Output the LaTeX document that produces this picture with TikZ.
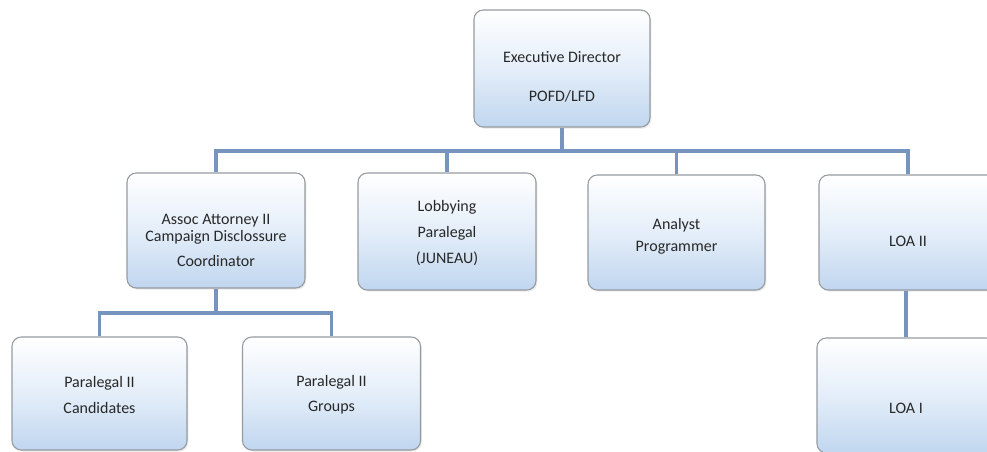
\documentclass[tikz,border=0pt]{standalone}
\usepackage{fontspec}
\setmainfont{Carlito}
\usetikzlibrary{shadows}
\definecolor{boxblue}{RGB}{192,214,239}
\definecolor{boxmid}{RGB}{228,238,249}
\definecolor{boxline}{RGB}{150,155,160}
\definecolor{connblue}{RGB}{118,148,190}
\definecolor{txtgray}{RGB}{40,40,40}
\tikzset{
  orgbox/.style={draw=boxline, line width=0.8pt, rounded corners=7pt,
    top color=white, bottom color=boxblue, middle color=boxmid,
    drop shadow={opacity=0.18, shadow xshift=1pt, shadow yshift=-1.2pt},
    inner sep=0pt},
  orgtxt/.style={font=\fontsize{12}{14}\selectfont, text=txtgray, align=center, inner sep=0pt},
  conn/.style={draw=connblue, line width=2.3pt}
}
\begin{document}
\begin{tikzpicture}[x=0.75pt,y=-0.75pt]
\useasboundingbox (0,0) rectangle (987,452);
\fill[white] (0,0) rectangle (987,452);
\clip (0,0) rectangle (987,452);
% boxes: minimum sizes in pt (px*0.75)
\node[orgbox, minimum width=132pt, minimum height=87.75pt] (ed) at (562,68.5) {};
\node[orgbox, minimum width=133.5pt, minimum height=86.25pt] (assoc) at (216,230.5) {};
\node[orgbox, minimum width=133.5pt, minimum height=87.75pt] (lob) at (447,231.5) {};
\node[orgbox, minimum width=132.75pt, minimum height=86.25pt] (ana) at (676.5,232.5) {};
\node[orgbox, minimum width=133.5pt, minimum height=86.25pt] (loa2) at (908,232.5) {};
\node[orgbox, minimum width=131.25pt, minimum height=84.75pt] (cand) at (99.5,393.5) {};
\node[orgbox, minimum width=133.5pt, minimum height=84.75pt] (grp) at (331.5,393.5) {};
\node[orgbox, minimum width=133.5pt, minimum height=86.25pt] (loa1) at (906,395.5) {};
% texts
\node[orgtxt] (edt) at (562,77) {Executive Director\\[15.5pt]POFD/LFD};
\node[orgtxt] (assoct) at (216,240) {Assoc Attorney II\\[-1pt]Campaign Disclossure\\[4.5pt]Coordinator};
\node[orgtxt] (lobt) at (447,233) {Lobbying\\[5.5pt]Paralegal\\[5.5pt](JUNEAU)};
\node[orgtxt] (anat) at (676.5,236) {Analyst\\[2.5pt]Programmer};
\node[orgtxt] (loa2t) at (908,241) {LOA II};
\node[orgtxt] (candt) at (99.5,395) {Paralegal II\\[5pt]Candidates};
\node[orgtxt] (grpt) at (331.5,395) {Paralegal II\\[5pt]Groups};
\node[orgtxt] (loa1t) at (906,408) {LOA I};
% connectors
\coordinate (bar) at (562,151);
\coordinate (bar2) at (216,313);
\draw[conn] (ed.south) -- (ed.south |- bar);
\draw[conn] (assoc.north) |- (loa2.north |- bar) -- (loa2.north);
\draw[conn] (lob.north) -- (lob.north |- bar);
\draw[conn] (ana.north) -- (ana.north |- bar);
\draw[conn] (assoc.south) -- (assoc.south |- bar2);
\draw[conn] (cand.north) |- (grp.north |- bar2) -- (grp.north);
\draw[conn] (loa1.north |- loa2.south) -- (loa1.north);
\end{tikzpicture}
\end{document}
